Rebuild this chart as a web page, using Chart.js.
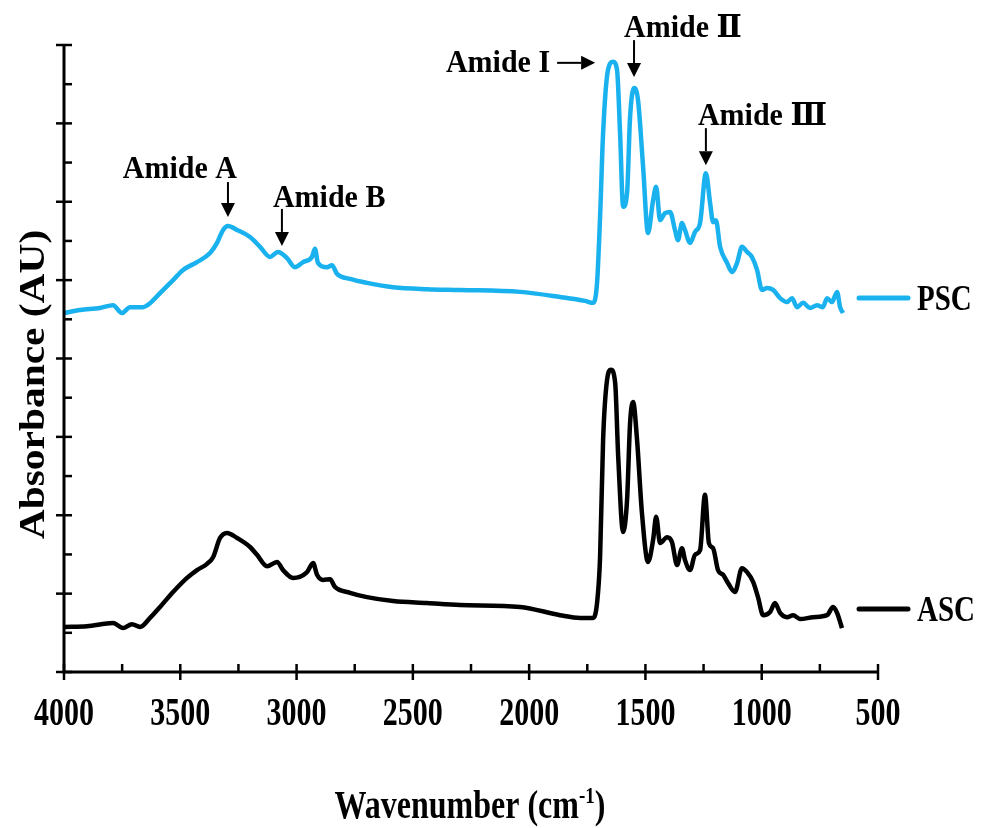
<!DOCTYPE html>
<html>
<head>
<meta charset="utf-8">
<title>FTIR spectra of ASC and PSC</title>
<script src="https://cdn.jsdelivr.net/npm/chart.js@4.4.1/dist/chart.umd.min.js"></script>
<style>
  html, body { margin: 0; padding: 0; background: #fff; }
  canvas { display: block; }
</style>
</head>
<body>
<canvas id="ftirChart" width="984" height="828"></canvas>
<script>
// PSC spectrum (wavenumber in cm-1, absorbance in arbitrary units)
const pscWavenumber = [4000,3931,3845,3789,3751,3716,3660,3630,3587,3531,3488,3428,3372,3342,3316,3295,3256,3200,3157,3114,
  3080,3041,3007,2972,2934,2921,2908,2869,2848,2826,2770,2697,2585,2439,2297,2039,1867,1760,1725,1708,
  1695,1682,1661,1639,1622,1609,1596,1579,1566,1549,1532,1510,1489,1467,1454,1437,1416,1394,1373,1360,
  1343,1330,1308,1287,1265,1240,1222,1209,1197,1179,1149,1128,1106,1085,1063,1042,1020,999,977,951,
  921,891,870,848,822,792,762,737,719,698,676,663,650];
const pscAbsorbance = [9.16,9.24,9.29,9.36,9.16,9.31,9.31,9.41,9.67,10.00,10.26,10.46,10.69,10.95,11.28,11.38,11.28,11.10,10.85,10.59,
  10.72,10.56,10.33,10.46,10.59,10.80,10.44,10.33,10.38,10.16,10.03,9.93,9.82,9.77,9.75,9.70,9.57,9.47,9.42,9.93,
  11.61,13.75,15.36,15.57,15.36,13.75,11.87,12.22,14.16,14.90,14.60,12.89,11.20,12.04,12.38,11.53,11.71,11.74,11.28,11.02,
  11.46,11.28,10.95,11.23,11.46,12.73,11.97,11.48,11.53,10.85,10.44,10.21,10.44,10.85,10.72,10.59,10.26,9.75,9.80,9.75,
  9.54,9.44,9.54,9.31,9.42,9.29,9.36,9.31,9.54,9.44,9.70,9.31,9.16];

// ASC spectrum
const ascWavenumber = [4000,3901,3789,3746,3708,3673,3630,3587,3531,3471,3428,3385,3359,3329,3299,3256,3200,3170,3127,3084,
  3058,3015,2955,2929,2912,2886,2856,2835,2770,2697,2585,2439,2297,2039,1867,1781,1725,1708,1695,1682,
  1665,1648,1630,1617,1596,1579,1566,1553,1536,1515,1489,1467,1454,1437,1407,1386,1364,1343,1330,1308,
  1287,1265,1244,1227,1209,1188,1166,1145,1115,1085,1063,1037,1016,994,964,943,921,891,865,835,
  779,719,693,676,655];
const ascAbsorbance = [1.15,1.17,1.25,1.12,1.22,1.15,1.38,1.66,2.04,2.40,2.60,2.76,2.93,3.42,3.55,3.42,3.19,2.99,2.70,2.81,
  2.60,2.40,2.55,2.78,2.48,2.35,2.37,2.17,2.02,1.91,1.81,1.76,1.71,1.66,1.45,1.38,1.38,1.76,2.93,5.92,
  7.45,7.71,7.37,5.49,3.57,4.39,6.35,6.89,5.92,4.06,2.81,3.37,3.96,3.29,3.44,3.32,2.73,3.16,2.86,2.60,
  2.99,3.11,4.52,3.29,3.16,2.60,2.48,2.27,2.04,2.65,2.55,2.30,1.91,1.45,1.53,1.76,1.51,1.40,1.45,1.35,
  1.40,1.45,1.66,1.51,1.12];

const seriesNames = ['PSC', 'ASC'];
const xTickLabels = [4000, 3500, 3000, 2500, 2000, 1500, 1000, 500];

// band assignments marked on the PSC trace
const bandLabels = ['Amide A', 'Amide B', 'Amide I', 'Amide \u2161', 'Amide \u2162'];
const bandWavenumber = [3295, 3063, 1639, 1549, 1240];
const bandAbsorbance = [11.38, 10.72, 15.57, 14.90, 12.73];

const SERIF = '"Liberation Serif", "Times New Roman", "DejaVu Serif", serif';
const BLUE = '#1ab1ef';

function toPoints(xs, ys) {
  return xs.map((x, i) => ({ x: x, y: ys[i] }));
}

// text is a bit taller than wide, so draw it with a vertical stretch
function drawText(ctx, text, x, y, size, stretch, align) {
  ctx.save();
  ctx.translate(x, y);
  ctx.scale(1, stretch);
  ctx.font = 'bold ' + size + 'px ' + SERIF;
  ctx.textAlign = align || 'center';
  ctx.textBaseline = 'alphabetic';
  ctx.fillStyle = '#000';
  ctx.fillText(text, 0, 0);
  ctx.restore();
}

function arrow(ctx, x1, y1, x2, y2) {
  const ang = Math.atan2(y2 - y1, x2 - x1);
  const head = 14, half = 7;
  const bx = x2 - head * Math.cos(ang), by = y2 - head * Math.sin(ang);
  ctx.save();
  ctx.strokeStyle = '#000';
  ctx.fillStyle = '#000';
  ctx.lineWidth = 2;
  ctx.beginPath();
  ctx.moveTo(x1, y1);
  ctx.lineTo(bx, by);
  ctx.stroke();
  ctx.beginPath();
  ctx.moveTo(x2, y2);
  ctx.lineTo(bx + half * Math.sin(ang), by - half * Math.cos(ang));
  ctx.lineTo(bx - half * Math.sin(ang), by + half * Math.cos(ang));
  ctx.closePath();
  ctx.fill();
  ctx.restore();
}

// offsets of each arrow and label from the band's peak (pixels)
const bandLayout = [
  { dir: 'down', gap: 9, len: 35, dx: 9, dy: -39, align: 'right' },
  { dir: 'down', gap: 6, len: 37, dx: -9, dy: -39, align: 'left' },
  { dir: 'right', gap: 18, len: 38, dx: -45, dy: 9, align: 'right' },
  { dir: 'down', gap: 11, len: 37, dx: -10, dy: -40, align: 'left' },
  { dir: 'down', gap: 8, len: 37, dx: -8, dy: -40, align: 'left' }
];

const axesPlugin = {
  id: 'excelAxes',
  afterDraw(chart) {
    const ctx = chart.ctx;
    const xs = chart.scales.x, ys = chart.scales.y;
    const area = chart.chartArea;

    ctx.save();
    ctx.strokeStyle = '#000';
    ctx.lineWidth = 3;
    ctx.lineCap = 'butt';
    ctx.beginPath();
    ctx.moveTo(area.left, area.top);
    ctx.lineTo(area.left, area.bottom);
    ctx.lineTo(area.right, area.bottom);
    ctx.stroke();

    // y ticks: major every 2 (cross), minor every 1 (inside)
    ctx.lineWidth = 2.5;
    for (let v = ys.min; v <= ys.max; v += 1) {
      const py = ys.getPixelForValue(v);
      const major = v % 2 === 0;
      ctx.beginPath();
      ctx.moveTo(area.left - (major ? 8 : 0), py);
      ctx.lineTo(area.left + 8, py);
      ctx.stroke();
    }
    // x ticks: major every 500 (cross), minor every 250 (inside)
    for (let w = xs.max; w >= xs.min; w -= 250) {
      const px = xs.getPixelForValue(w);
      const major = w % 500 === 0;
      ctx.beginPath();
      ctx.moveTo(px, area.bottom + (major ? 8 : 0));
      ctx.lineTo(px, area.bottom - 8);
      ctx.stroke();
    }
    ctx.restore();

    xTickLabels.forEach(w => {
      drawText(ctx, String(w), xs.getPixelForValue(w), 725, 30, 1.3, 'center');
    });

    // x title with superscript -1
    ctx.save();
    ctx.font = 'bold 32px ' + SERIF;
    const part1 = 'Wavenumber (cm';
    const w1 = ctx.measureText(part1).width;
    ctx.font = 'bold 19px ' + SERIF;
    const wSup = ctx.measureText('-1').width;
    ctx.font = 'bold 32px ' + SERIF;
    const w3 = ctx.measureText(')').width;
    ctx.restore();
    const total = w1 + wSup + w3;
    const cx = (area.left + area.right) / 2 - 1;
    const startX = cx - total / 2;
    drawText(ctx, part1, startX, 818, 32, 1.25, 'left');
    drawText(ctx, '-1', startX + w1, 803, 19, 1.25, 'left');
    drawText(ctx, ')', startX + w1 + wSup, 818, 32, 1.25, 'left');

    // y title
    ctx.save();
    ctx.translate(44, (area.top + area.bottom) / 2 + 26);
    ctx.rotate(-Math.PI / 2);
    ctx.scale(1.15, 1);
    ctx.font = 'bold 36px ' + SERIF;
    ctx.textAlign = 'center';
    ctx.textBaseline = 'alphabetic';
    ctx.fillStyle = '#000';
    ctx.fillText('Absorbance (AU)', 0, 0);
    ctx.restore();

    // series keys at the right
    const keyY = [298, 609];
    chart.data.datasets.forEach((ds, i) => {
      ctx.save();
      ctx.strokeStyle = ds.borderColor;
      ctx.lineWidth = 5;
      ctx.lineCap = 'round';
      ctx.beginPath();
      ctx.moveTo(859, keyY[i]);
      ctx.lineTo(908, keyY[i]);
      ctx.stroke();
      ctx.restore();
      drawText(ctx, ds.label, 917, keyY[i] + 12, 29, 1.2, 'left');
    });

    // band assignments
    bandLabels.forEach((label, i) => {
      const lay = bandLayout[i];
      const px = xs.getPixelForValue(bandWavenumber[i]);
      const py = ys.getPixelForValue(bandAbsorbance[i]);
      let tipX, tipY;
      if (lay.dir === 'down') {
        tipX = px; tipY = py - lay.gap;
        arrow(ctx, tipX, tipY - lay.len, tipX, tipY);
      } else {
        tipX = px - lay.gap; tipY = py + 1;
        arrow(ctx, tipX - lay.len, tipY, tipX, tipY);
      }
      drawText(ctx, label, tipX + lay.dx, tipY + lay.dy, 30, 1.05, lay.align);
    });
  }
};

new Chart(document.getElementById('ftirChart'), {
  type: 'line',
  data: {
    datasets: [
      {
        label: seriesNames[0],
        data: toPoints(pscWavenumber, pscAbsorbance),
        borderColor: BLUE,
        borderWidth: 4.5,
        pointRadius: 0,
        cubicInterpolationMode: 'monotone'
      },
      {
        label: seriesNames[1],
        data: toPoints(ascWavenumber, ascAbsorbance),
        borderColor: '#000000',
        borderWidth: 4.5,
        pointRadius: 0,
        cubicInterpolationMode: 'monotone'
      }
    ]
  },
  options: {
    responsive: false,
    animation: false,
    devicePixelRatio: 1,
    layout: { padding: { left: 64, right: 106, top: 45, bottom: 156 } },
    plugins: {
      legend: { display: false },
      tooltip: { enabled: false }
    },
    scales: {
      x: { type: 'linear', min: 500, max: 4000, reverse: true, display: false },
      y: { type: 'linear', min: 0, max: 16, display: false }
    }
  },
  plugins: [axesPlugin]
});
</script>
</body>
</html>
